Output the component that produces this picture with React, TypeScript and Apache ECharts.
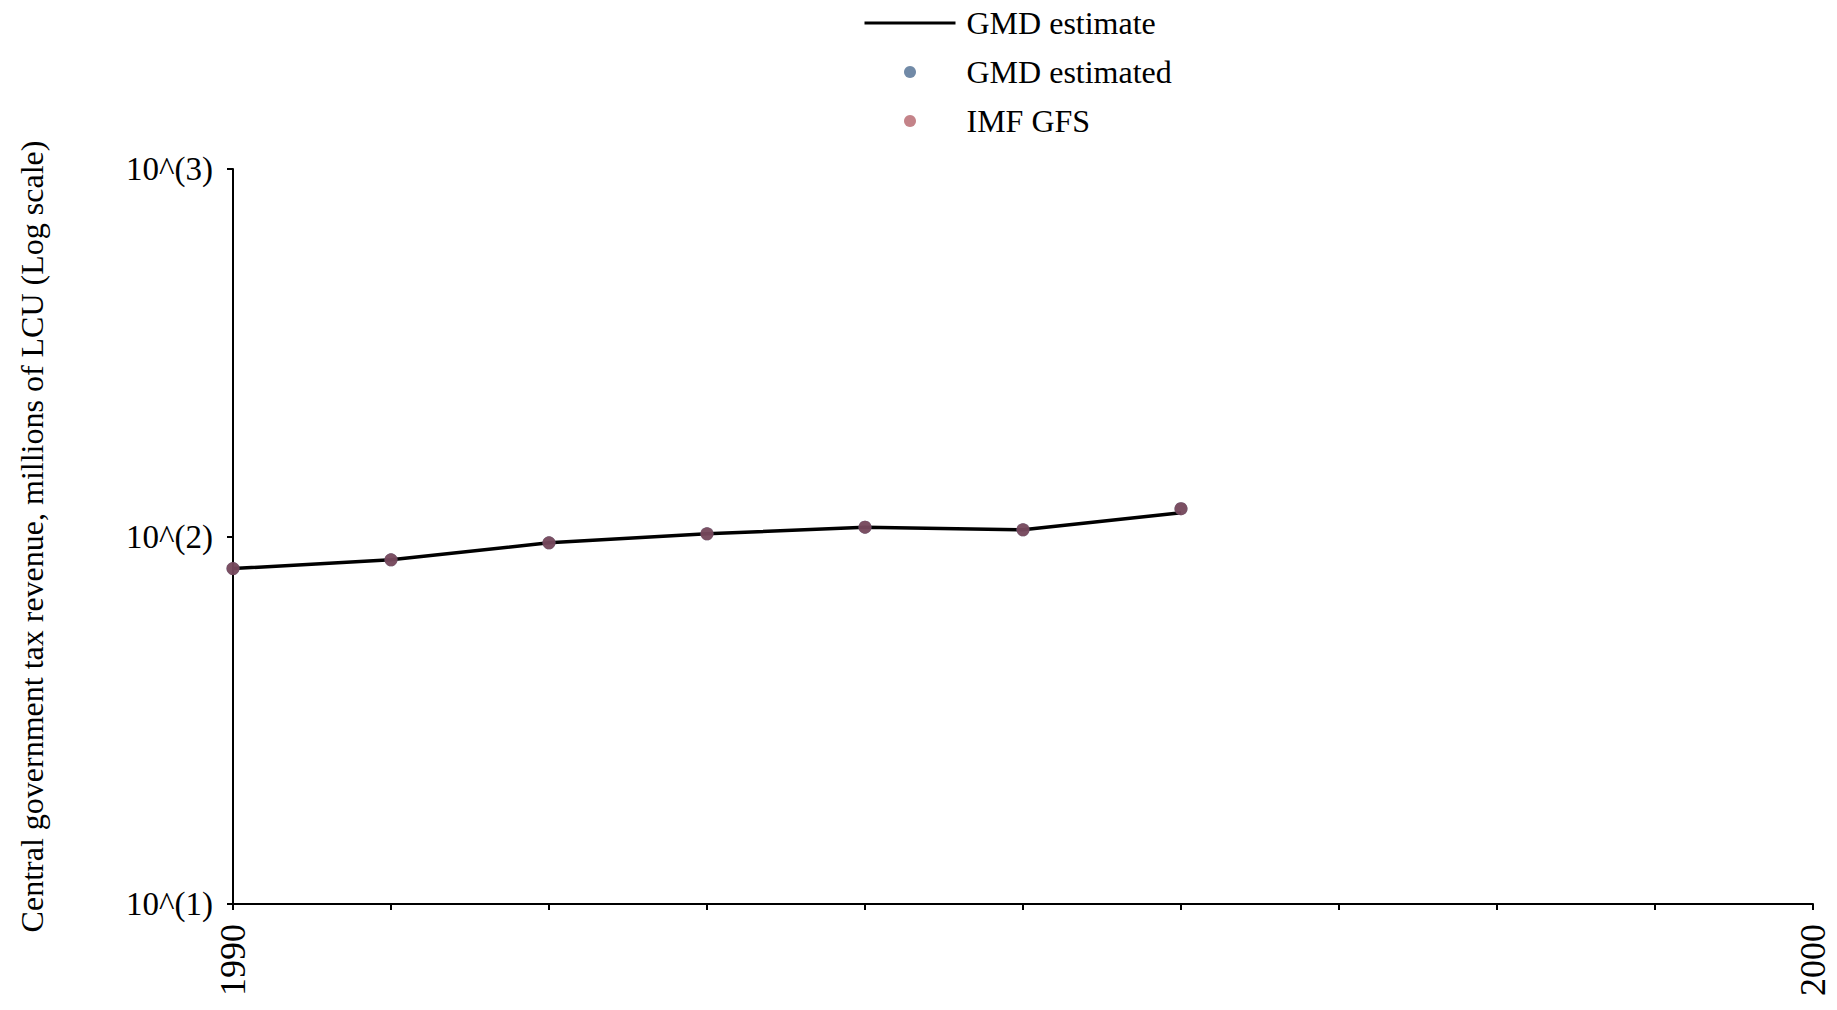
import React, { useEffect, useRef } from "react";
import * as echarts from "echarts";

const years = [1990, 1991, 1992, 1993, 1994, 1995, 1996];
const gmdEstimate = [81.8, 86.4, 96.1, 101.7, 106.0, 104.3, 116.0];
const gmdEstimated = [81.8, 86.4, 96.1, 101.7, 106.0, 104.3, 119.0];
const imfGfs = [81.8, 86.4, 96.1, 101.7, 106.0, 104.3, 119.0];
const xLabels = [1990, 2000];
const yAxisName = "Central government tax revenue, millions of LCU (Log scale)";

const FONT = "'Liberation Serif', 'Times New Roman', serif";

export default function App() {
  const ref = useRef<HTMLDivElement>(null);
  useEffect(() => {
    if (!ref.current) return;
    const chart = echarts.init(ref.current, undefined, { renderer: "svg" });
    const pair = (arr: number[]) => years.map((y, i) => [y, arr[i]]);
    chart.setOption({
      animation: false,
      backgroundColor: "#ffffff",
      textStyle: { fontFamily: FONT, color: "#000" },
      legend: {
        orient: "vertical",
        left: 858,
        top: 2,
        itemWidth: 91,
        itemHeight: 12,
        itemGap: 17,
        textStyle: { fontFamily: FONT, fontSize: 32, color: "#000", padding: [0, 0, 0, 6] },
        data: [
          {
            name: "GMD estimate",
            itemStyle: { opacity: 0 },
            lineStyle: { color: "#000", width: 3 },
          },
          { name: "GMD estimated", itemStyle: { color: "#4e6d91" } },
          { name: "IMF GFS", itemStyle: { color: "#b5646c" } },
        ],
      },
      grid: { left: 233, right: 24, top: 169, bottom: 106, containLabel: false },
      xAxis: {
        type: "value",
        min: 1990,
        max: 2000,
        interval: 1,
        splitLine: { show: false },
        axisLine: { show: true, lineStyle: { color: "#000", width: 2 } },
        axisTick: { show: true, length: 6, lineStyle: { color: "#000", width: 2 } },
        axisLabel: {
          rotate: 90,
          margin: 20,
          fontSize: 36,
          fontFamily: FONT,
          color: "#000",
          formatter: (v: number) => (xLabels.includes(v) ? String(v) : ""),
        },
      },
      yAxis: {
        type: "log",
        logBase: 10,
        min: 10,
        max: 1000,
        name: yAxisName,
        nameLocation: "middle",
        nameGap: 185,
        nameTextStyle: { fontFamily: FONT, fontSize: 32, color: "#000" },
        splitLine: { show: false },
        axisLine: { show: true, lineStyle: { color: "#000", width: 2 } },
        axisTick: { show: true, length: 6, lineStyle: { color: "#000", width: 2 } },
        minorTick: { show: false },
        axisLabel: {
          margin: 20,
          fontSize: 33,
          fontFamily: FONT,
          color: "#000",
          formatter: (v: number) => "10^(" + Math.round(Math.log10(v)) + ")",
        },
      },
      series: [
        {
          name: "GMD estimate",
          type: "line",
          data: pair(gmdEstimate),
          symbol: "none",
          showSymbol: false,
          lineStyle: { color: "#000", width: 3.5 },
          itemStyle: { color: "#000" },
          z: 2,
        },
        {
          name: "GMD estimated",
          type: "scatter",
          data: pair(gmdEstimated),
          symbol: "circle",
          symbolSize: 13,
          itemStyle: { color: "#4e6d91" },
          z: 3,
        },
        {
          name: "IMF GFS",
          type: "scatter",
          data: pair(imfGfs),
          symbol: "circle",
          symbolSize: 13,
          itemStyle: { color: "#7e4152" },
          z: 4,
        },
      ],
    });
    return () => chart.dispose();
  }, []);
  return <div ref={ref} style={{ width: 1837, height: 1010, position: "absolute", left: 0, top: 0 }} />;
}
